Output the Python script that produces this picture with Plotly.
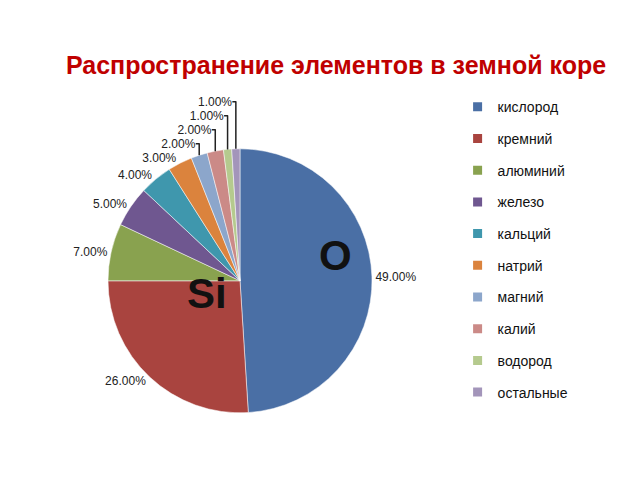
import plotly.graph_objects as go

labels = ["кислород", "кремний", "алюминий", "железо", "кальций",
          "натрий", "магний", "калий", "водород", "остальные"]
values = [49, 26, 7, 5, 4, 3, 2, 2, 1, 1]
colors = ["#4A6FA5", "#A9443F", "#89A24F", "#6F5790", "#3F97AD",
          "#DB833D", "#8CA6CB", "#CB8A87", "#B5CA8E", "#A395BA"]

fig = go.Figure()
fig.add_trace(go.Pie(
    labels=labels, values=values, sort=False, direction="clockwise",
    rotation=0,
    marker=dict(colors=colors, line=dict(color="#ffffff", width=0.5)),
    textposition="outside", texttemplate="%{percent:.2%}",
    textfont=dict(family="Liberation Sans, Arial, sans-serif", size=12, color="#222222"),
    outsidetextfont=dict(family="Liberation Sans, Arial, sans-serif", size=12, color="#222222"),
    showlegend=False, hoverinfo="label+percent",
    domain=dict(x=[0.13, 0.62], y=[0.14, 0.69]),
))

# legend entries
for lab, col in zip(labels, colors):
    fig.add_trace(go.Scatter(
        x=[None], y=[None], mode="markers", name=lab, legendgroup=lab,
        marker=dict(symbol="square", size=9, color=col),
    ))

fig.update_layout(
    width=640, height=480,
    margin=dict(l=0, r=0, t=0, b=0),
    paper_bgcolor="white", plot_bgcolor="white",
    xaxis=dict(visible=False), yaxis=dict(visible=False),
    title=dict(text="<b>Распространение элементов в земной коре</b>",
               x=0.525, xanchor="center", y=0.865, yanchor="middle",
               font=dict(family="Liberation Sans, Arial, sans-serif", size=25, color="#C00000")),
    legend=dict(x=0.715, y=0.81, xanchor="left", yanchor="top",
                font=dict(family="Liberation Sans, Arial, sans-serif", size=14, color="#111111"),
                tracegroupgap=10.5, traceorder="grouped", itemwidth=30),
    annotations=[
        dict(text="<b>O</b>", x=335 / 640, y=1 - 255 / 480, xref="paper", yref="paper",
             showarrow=False, font=dict(family="Liberation Sans, Arial, sans-serif", size=42, color="#111111")),
        dict(text="<b>Si</b>", x=185 / 640, y=1 - 293 / 480, xref="paper", yref="paper",
             showarrow=False, font=dict(family="Liberation Sans, Arial, sans-serif", size=42, color="#111111")),
    ],
)

fig.write_html("out.html")
